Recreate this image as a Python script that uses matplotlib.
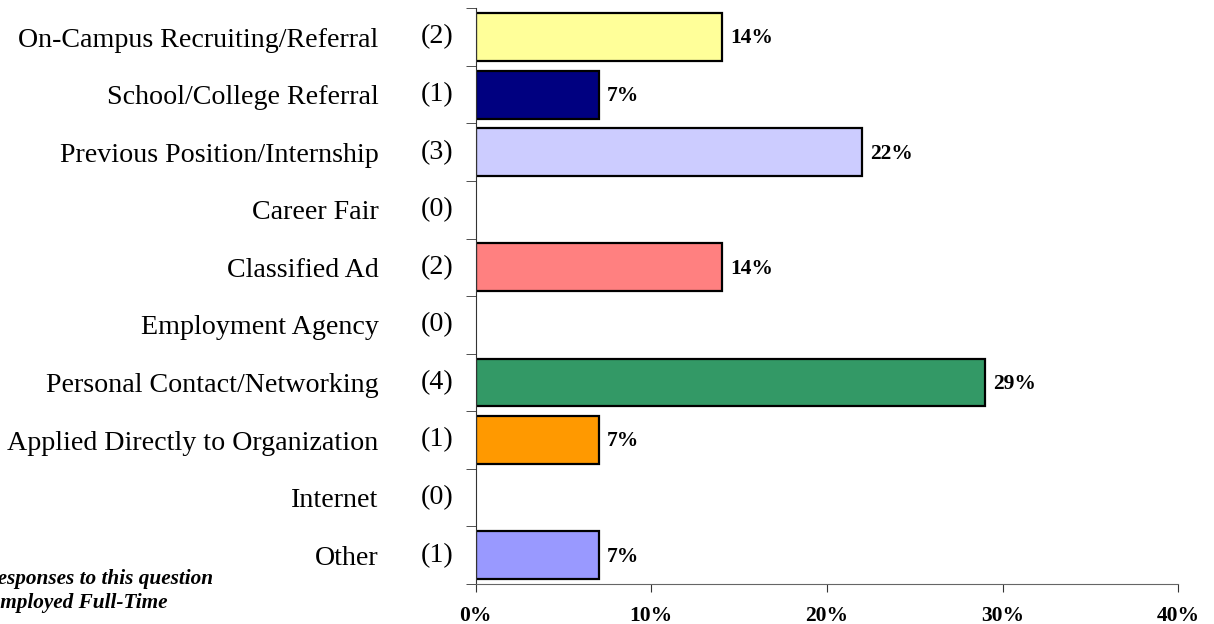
import numpy as np
import matplotlib.pyplot as plt
from matplotlib.transforms import blended_transform_factory

# datos
categorias = ['On-Campus Recruiting/Referral', 'School/College Referral',
              'Previous Position/Internship', 'Career Fair', 'Classified Ad',
              'Employment Agency', 'Personal Contact/Networking',
              'Applied Directly to Organization', 'Internet', 'Other']
respuestas = [2, 1, 3, 0, 2, 0, 4, 1, 0, 1]
porcentajes = [14, 7, 22, 0, 14, 0, 29, 7, 0, 7]
colores = ['#FFFF99', '#000080', '#CCCCFF', '#FFFFFF', '#FF8080',
           '#FFFFFF', '#339966', '#FF9900', '#FFFFFF', '#9999FF']
ticks_x = [0, 10, 20, 30, 40]

serif = 'Liberation Serif'

fig = plt.figure(figsize=(12.14, 6.24), dpi=100)
ax = fig.add_axes([0.3918, 0.0641, 0.9706 - 0.3918, 0.9867 - 0.0641])

y = np.arange(len(categorias))
vis = [p > 0 for p in porcentajes]
ax.barh(y[vis], np.array(porcentajes)[vis], height=0.83,
        color=np.array(colores)[vis], edgecolor='black', linewidth=1.6)

ax.set_xlim(0, 40)
ax.set_ylim(len(categorias) - 0.5, -0.5)

# etiquetas de valor
for yi, p in zip(y, porcentajes):
    if p > 0:
        ax.annotate(f'{p}%', (p, yi), xytext=(6, -1), textcoords='offset points',
                    va='center', ha='left', fontsize=15.5, fontweight='bold',
                    family=serif)

# ejes
for lado in ['top', 'right']:
    ax.spines[lado].set_visible(False)
ax.spines['left'].set_color('#333333')
ax.spines['bottom'].set_color('#666666')

ax.set_xticks(ticks_x)
ax.set_xticklabels([f'{t}%' for t in ticks_x], fontsize=15.5, fontweight='bold',
                   family=serif)
ax.tick_params(axis='x', direction='out', length=6, pad=10, color='#333333')

ax.set_yticks(y)
ax.set_yticklabels(categorias, fontsize=20.2, family=serif)
ax.tick_params(axis='y', which='major', length=0, pad=70)
ax.set_yticks(np.arange(len(categorias) + 1) - 0.5, minor=True)
ax.tick_params(axis='y', which='minor', direction='out', length=7, color='#333333')

trans = blended_transform_factory(ax.transAxes, ax.transData)
for yi, n in zip(y, respuestas):
    ax.annotate(f'({n})', (0, yi), xycoords=trans, xytext=(-16, 0),
                textcoords='offset points', ha='right', va='center',
                fontsize=20.2, family=serif)

# nota al pie (cortada en el original)
fig.text(213 / 1214, 1 - 579 / 624, '*Based on 14 Responses to this question',
         ha='right', va='center', fontsize=15.3, fontweight='bold',
         style='italic', family=serif)
fig.text(168 / 1214, 1 - 603 / 624, 'from Graduates Employed Full-Time',
         ha='right', va='center', fontsize=15.3, fontweight='bold',
         style='italic', family=serif)

fig.savefig('out.png', dpi=100)
